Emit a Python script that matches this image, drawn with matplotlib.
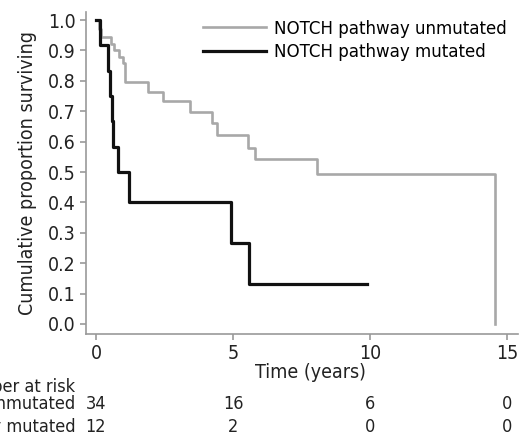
import matplotlib
matplotlib.use("Agg")
import matplotlib.pyplot as plt

# Kaplan-Meier steps
t_unmut = [0, 0.10, 0.18, 0.56, 0.66, 0.84, 0.98, 1.05, 1.9, 2.45, 3.43, 4.22, 4.4, 5.55, 5.8, 8.07, 14.56]
s_unmut = [1.0, 0.971, 0.945, 0.923, 0.90, 0.879, 0.858, 0.797, 0.765, 0.733, 0.698, 0.66, 0.622, 0.578, 0.543, 0.494, 0.0]

t_mut = [0, 0.15, 0.44, 0.51, 0.57, 0.62, 0.8, 1.2, 4.93, 5.58, 9.9]
s_mut = [1.0, 0.917, 0.833, 0.75, 0.667, 0.583, 0.5, 0.4, 0.267, 0.133, 0.133]

risk_times = [0, 5, 10, 15]
risk_unmut = [34, 16, 6, 0]
risk_mut = [12, 2, 0, 0]

labels = ["NOTCH pathway unmutated", "NOTCH pathway mutated"]

plt.rcParams['font.family'] = ['DejaVu Sans']
plt.rcParams['font.stretch'] = 'condensed'

fig = plt.figure(figsize=(5.25, 4.36), dpi=100)
ax = fig.add_axes([0.164, 0.234, 0.823, 0.738])

ax.step(t_unmut, s_unmut, where='post', color='#a8a8a8', lw=1.9, label=labels[0])
ax.step(t_mut, s_mut, where='post', color='#111111', lw=2.3, label=labels[1])

ax.set_xlim(-0.36, 15.4)
ax.set_ylim(-0.033, 1.026)
ax.set_xticks([0, 5, 10, 15])
ax.set_yticks([i / 10 for i in range(11)])
ax.set_yticklabels([f"{i / 10:.1f}" for i in range(11)])

for side in ['top', 'right']:
    ax.spines[side].set_visible(False)
for side in ['left', 'bottom']:
    ax.spines[side].set_color('#999999')
    ax.spines[side].set_linewidth(1.2)
ax.tick_params(colors='#999999', labelcolor='#222222', labelsize=14, length=4, width=1.2)

ax.set_ylabel("Cumulative proportion surviving", fontsize=14, color='#222222', labelpad=8)
ax.set_xlabel("Time (years)", fontsize=14, color='#222222', labelpad=-2)
ax.xaxis.set_label_coords(0.52, -0.09)

ax.legend(loc='upper left', bbox_to_anchor=(0.27, 0.977), frameon=False, fontsize=13.3,
          handlelength=3.4, handletextpad=0.45, labelspacing=0.3, borderpad=0, borderaxespad=0)

# number at risk table
ax.text(-0.75, -0.165, "Number at risk", transform=ax.get_xaxis_transform(),
        ha='right', va='center', fontsize=13, color='#222222', clip_on=False)
rows = [(labels[0], risk_unmut, -0.217), (labels[1], risk_mut, -0.289)]
for name, vals, yy in rows:
    ax.text(-0.75, yy, name, transform=ax.get_xaxis_transform(),
            ha='right', va='center', fontsize=13, color='#222222', clip_on=False)
    for tt, v in zip(risk_times, vals):
        ax.text(tt, yy, str(v), transform=ax.get_xaxis_transform(),
                ha='center', va='center', fontsize=13, color='#222222', clip_on=False)

fig.savefig("out.png", dpi=100)
